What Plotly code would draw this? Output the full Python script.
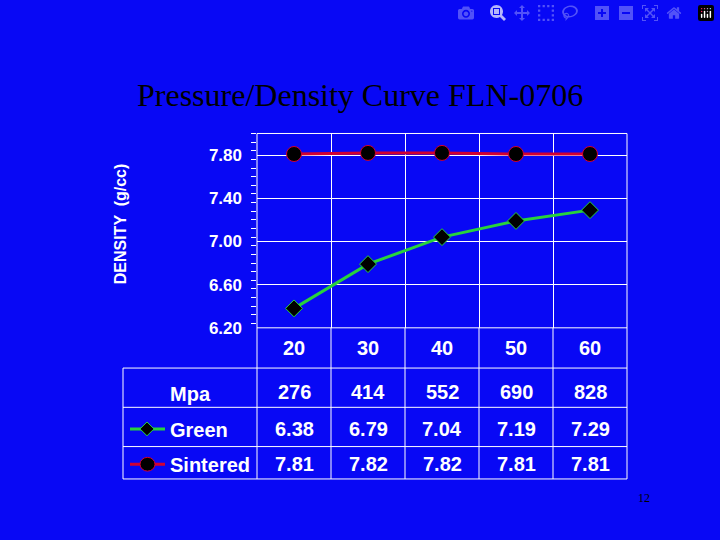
import plotly.graph_objects as go

mpa_x = [20, 30, 40, 50, 60]
mpa_vals = ["276", "414", "552", "690", "828"]
green = [6.38, 6.79, 7.04, 7.19, 7.29]
sintered = [7.81, 7.82, 7.82, 7.81, 7.81]
yticks = [6.2, 6.6, 7.0, 7.4, 7.8]

BG = "rgb(8,8,245)"
GREEN = "rgb(40,210,60)"
RED = "rgb(210,0,50)"
W, H = 720, 540
def px(x): return x / W
def py(y): return 1 - y / H

fig = go.Figure()
fig.add_trace(go.Scatter(x=mpa_x, y=green, mode="lines+markers",
    line=dict(color=GREEN, width=3),
    marker=dict(symbol="diamond", size=13, color="black", line=dict(color=GREEN, width=1))))
fig.add_trace(go.Scatter(x=mpa_x, y=sintered, mode="lines+markers",
    line=dict(color=RED, width=3),
    marker=dict(symbol="circle", size=15, color="black", line=dict(color=RED, width=1))))

x0, x1, ybot, ytop = 257, 627, 334, 136
fig.update_layout(
    width=W, height=H, paper_bgcolor=BG, plot_bgcolor=BG, showlegend=False,
    margin=dict(l=0, r=0, t=0, b=0),
    font=dict(family="Liberation Sans", color="white"),
    xaxis=dict(domain=[px(x0), px(x1)], range=[15, 65], showticklabels=False,
               tickvals=[25, 35, 45, 55], showgrid=True, gridcolor="white", gridwidth=1,
               zeroline=False, showline=False),
    yaxis=dict(domain=[py(ybot), py(ytop)], range=[6.2, 8.0], tickvals=yticks,
               ticktext=[f"{v:.2f}" for v in yticks], showgrid=True, gridcolor="white",
               zeroline=False, showline=False, ticks="", ticklabelstandoff=14,
               tickfont=dict(size=17, family="Liberation Sans", color="white", weight="bold"),
               minor=dict(dtick=0.08, ticks="outside", ticklen=5, tickcolor="white")),
)

shapes = []
def line(xa, ya, xb, yb, color="white", width=1):
    shapes.append(dict(type="line", xref="paper", yref="paper", x0=px(xa), y0=py(ya),
                       x1=px(xb), y1=py(yb), line=dict(color=color, width=width)))
line(x0, ytop, x1, ytop); line(x0, ytop, x0, 488); line(x1, ytop, x1, 488)
rows = [334, 375, 415, 455, 488]
line(x0, 334, x1, 334)
for r in rows[1:]:
    line(123, r, x1, r)
line(123, 375, 123, 488)
for k in range(1, 5):
    line(x0 + 74 * k, 334, x0 + 74 * k, 488)
line(130, 437, 165, 437, GREEN, 3)
line(130, 473, 165, 473, RED, 3)
shapes.append(dict(type="path", xref="paper", yref="paper",
    path=f"M {px(147)},{py(430)} L {px(154)},{py(437)} L {px(147)},{py(444)} L {px(140)},{py(437)} Z",
    fillcolor="black", line=dict(color=GREEN, width=1)))
shapes.append(dict(type="circle", xref="paper", yref="paper", x0=px(140), x1=px(155),
    y0=py(480), y1=py(466), fillcolor="black", line=dict(color=RED, width=1)))
fig.update_layout(shapes=shapes)

ann = []
bold = dict(family="Liberation Sans", color="white", size=20, weight="bold")
for i, xv in enumerate(mpa_x):
    for text, yc in [(str(xv), 355), (mpa_vals[i], 399), (f"{green[i]:.2f}", 437), (f"{sintered[i]:.2f}", 473)]:
        ann.append(dict(x=xv, xref="x", y=py(yc), yref="paper", yanchor="middle", text=text,
                        showarrow=False, font=bold))
for text, yc in [("Mpa", 401), ("Green", 438), ("Sintered", 474)]:
    ann.append(dict(x=px(168), xref="paper", xanchor="left", y=py(yc), yref="paper", yanchor="middle",
                    text=text, showarrow=False, font=bold))
ann.append(dict(x=px(110), y=py(228), xref="paper", yref="paper", yanchor="middle", text="DENSITY  (g/cc)",
                textangle=-90, showarrow=False,
                font=dict(family="Liberation Sans", color="white", size=16, weight="bold")))
ann.append(dict(x=0.5, y=py(97), xref="paper", yref="paper", yanchor="middle",
                text="Pressure/Density Curve FLN-0706",
                showarrow=False, font=dict(family="Liberation Serif", color="black", size=32)))
ann.append(dict(x=px(652), y=py(507), xref="paper", yref="paper", yanchor="middle", text="12",
                showarrow=False, font=dict(family="Liberation Serif", color="black", size=12)))
fig.update_layout(annotations=ann)
fig.write_html("out.html")

with open("out.html", encoding="utf-8") as f:
    html = f.read()
html = html.replace("<head>", "<head><style>html,body{margin:0;padding:0;overflow:hidden;}</style>", 1)
with open("out.html", "w", encoding="utf-8") as f:
    f.write(html)
